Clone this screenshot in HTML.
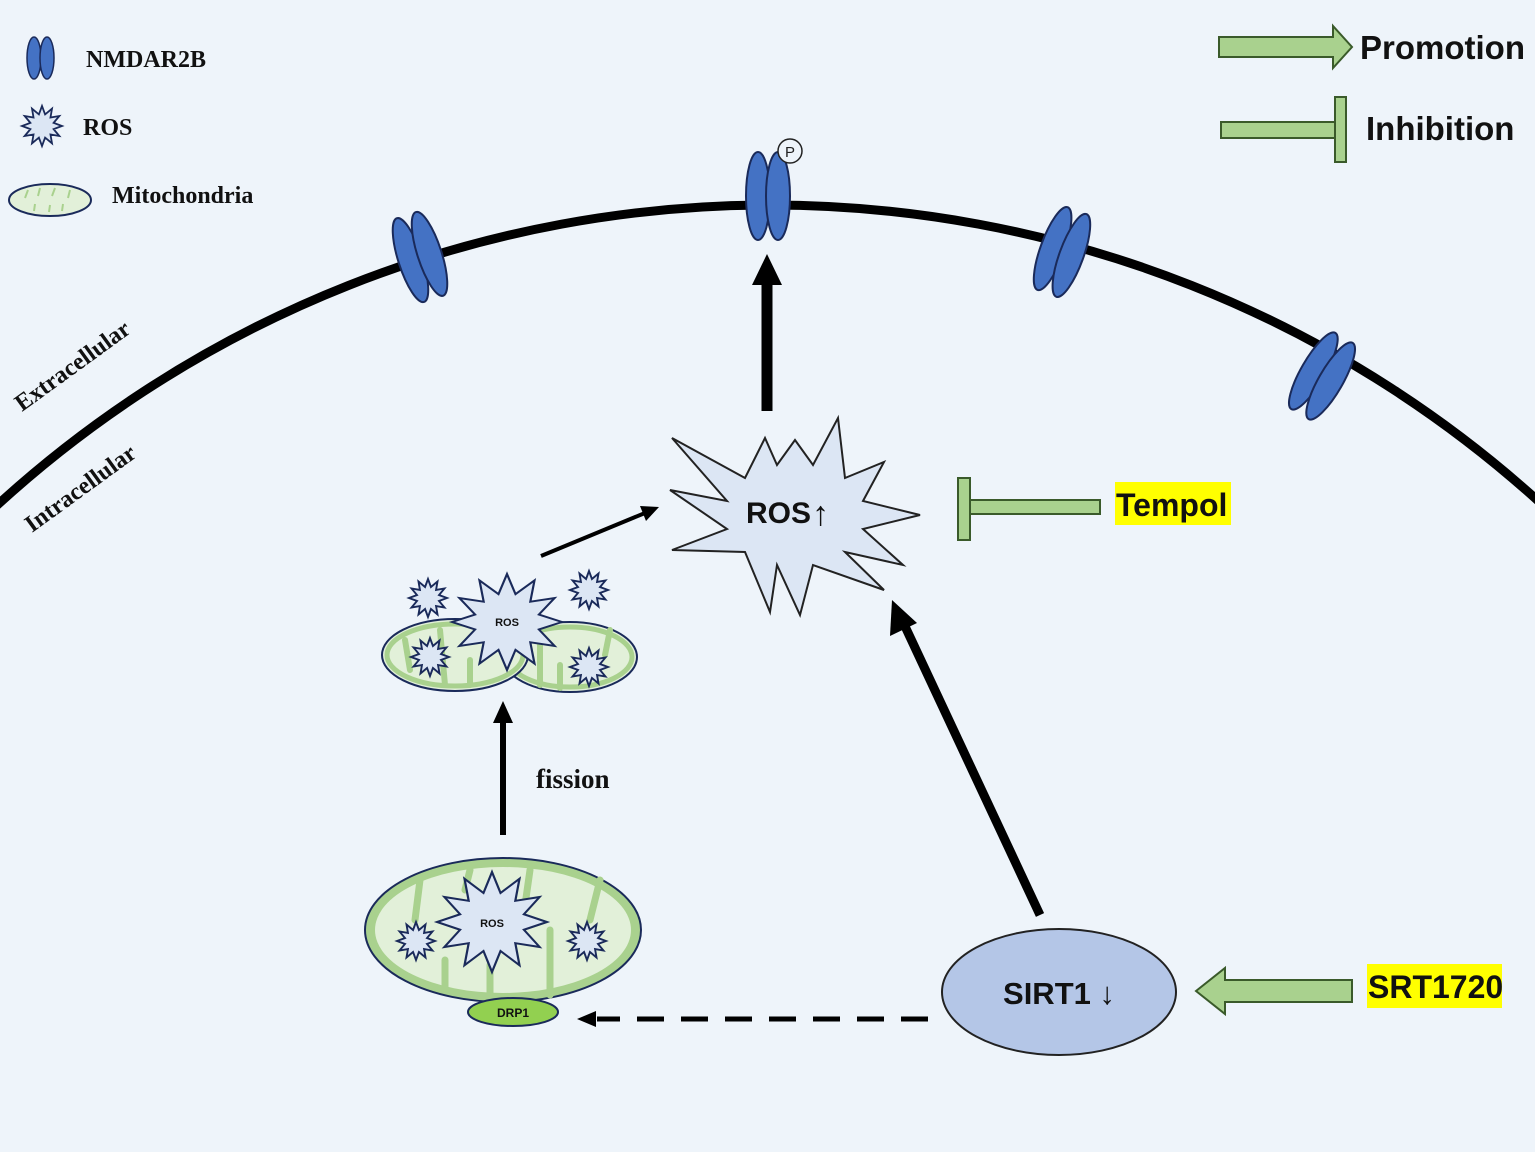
<!DOCTYPE html>
<html><head><meta charset="utf-8"><style>
html,body{margin:0;background:#eef4fa;overflow:hidden;width:1535px;height:1152px}
svg{display:block}
.t{font-family:"Liberation Serif",serif;font-weight:bold;fill:#111}
.s{font-family:"Liberation Sans",sans-serif;font-weight:bold;fill:#111}
</style></head><body>
<svg width="1535" height="1152" viewBox="0 0 1535 1152" xmlns="http://www.w3.org/2000/svg">
<defs>
<polygon id="st" points="1,0 .58,.155 .866,.5 .424,.424 .5,.866 .155,.58 0,1 -.155,.58 -.5,.866 -.424,.424 -.866,.5 -.58,.155 -1,0 -.58,-.155 -.866,-.5 -.424,-.424 -.5,-.866 -.155,-.58 0,-1 .155,-.58 .5,-.866 .424,-.424 .866,-.5 .58,-.155"/>
<g id="rec"><ellipse cx="-10" cy="0" rx="12" ry="44" fill="#4472c4" stroke="#1a2a5a" stroke-width="2"/><ellipse cx="10" cy="0" rx="12" ry="44" fill="#4472c4" stroke="#1a2a5a" stroke-width="2"/></g>
</defs>
<rect width="1535" height="1152" fill="#eef4fa"/>
<circle cx="770" cy="1350" r="1145" fill="none" stroke="#000" stroke-width="9"/>
<use href="#rec" transform="translate(420,257) rotate(-18)"/>
<use href="#rec" transform="translate(768,196)"/>
<use href="#rec" transform="translate(1062,252) rotate(20)"/>
<use href="#rec" transform="translate(1322,376) rotate(30)"/>
<circle cx="790" cy="151" r="12" fill="#eef4fa" stroke="#222" stroke-width="1.5"/>
<text x="790" y="157" font-family="Liberation Sans,sans-serif" font-size="15" text-anchor="middle" fill="#222">P</text>
<text class="t" font-size="24" transform="translate(22,412) rotate(-36)">Extracellular</text>
<text class="t" font-size="24" transform="translate(32,533) rotate(-36)">Intracellular</text>
<g transform="translate(41,58)"><ellipse cx="-7" cy="0" rx="7" ry="21" fill="#4472c4" stroke="#1a2a5a" stroke-width="1.5"/><ellipse cx="6" cy="0" rx="7" ry="21" fill="#4472c4" stroke="#1a2a5a" stroke-width="1.5"/></g>
<text class="t" x="86" y="67" font-size="24">NMDAR2B</text>
<use href="#st" transform="translate(42,126) scale(20,20)" fill="#dce6f4" stroke="#1a2a5a" stroke-width=".09"/>
<text class="t" x="83" y="135" font-size="24">ROS</text>
<ellipse cx="50" cy="200" rx="41" ry="16" fill="#e2f0d9" stroke="#1a2a5a" stroke-width="2"/>
<g stroke="#a9d18e" stroke-width="2"><line x1="28" y1="190" x2="25" y2="198"/><line x1="40" y1="188" x2="38" y2="196"/><line x1="55" y1="188" x2="52" y2="196"/><line x1="70" y1="190" x2="68" y2="198"/><line x1="35" y1="204" x2="34" y2="211"/><line x1="50" y1="205" x2="49" y2="212"/><line x1="63" y1="204" x2="62" y2="211"/></g>
<text class="t" x="112" y="203" font-size="24">Mitochondria</text>
<polygon points="1219,37 1333,37 1333,26 1352,47 1333,68 1333,57 1219,57" fill="#a9d18e" stroke="#3a5a2a" stroke-width="2"/>
<text class="s" x="1360" y="59" font-size="33">Promotion</text>
<rect x="1221" y="122" width="114" height="16" fill="#a9d18e" stroke="#3a5a2a" stroke-width="2"/>
<rect x="1335" y="97" width="11" height="65" fill="#a9d18e" stroke="#3a5a2a" stroke-width="2"/>
<text class="s" x="1366" y="140" font-size="33">Inhibition</text>
<polygon points="920,515 863,529 903,565 845,552 884,590 813,565 800,615 777,565 770,612 745,552 672,550 727,529 670,490 727,501 672,438 745,478 765,438 777,465 795,440 813,465 838,418 845,478 884,462 863,501" fill="#dce6f4" stroke="#222" stroke-width="2"/>
<text class="s" x="746" y="523" font-size="30">ROS</text>
<text class="s" x="812" y="525" font-size="34">↑</text>
<line x1="767" y1="411" x2="767" y2="282" stroke="#000" stroke-width="11"/>
<polygon points="767,254 752,285 782,285" fill="#000"/>
<rect x="970" y="500" width="130" height="14" fill="#a9d18e" stroke="#3a5a2a" stroke-width="2"/>
<rect x="958" y="478" width="12" height="62" fill="#a9d18e" stroke="#3a5a2a" stroke-width="2"/>
<rect x="1115" y="482" width="116" height="43" fill="#ffff00"/>
<text class="s" x="1116" y="516" font-size="32">Tempol</text>
<line x1="541" y1="556" x2="645" y2="513" stroke="#000" stroke-width="4"/>
<polygon points="659,507 640,506 646,521" fill="#000"/>
<ellipse cx="570" cy="657" rx="67" ry="35" fill="#e2f0d9" stroke="#1a2a5a" stroke-width="2"/>
<ellipse cx="570" cy="657" rx="62" ry="30" fill="none" stroke="#a9d18e" stroke-width="5"/>
<ellipse cx="455" cy="655" rx="73" ry="36" fill="#e2f0d9" stroke="#1a2a5a" stroke-width="2"/>
<ellipse cx="455" cy="655" rx="68" ry="31" fill="none" stroke="#a9d18e" stroke-width="5"/>
<g stroke="#a9d18e" stroke-width="6" stroke-linecap="round"><line x1="405" y1="640" x2="410" y2="670"/><line x1="440" y1="630" x2="445" y2="685"/><line x1="470" y1="660" x2="470" y2="685"/><line x1="540" y1="640" x2="540" y2="685"/><line x1="560" y1="665" x2="560" y2="688"/><line x1="610" y1="630" x2="605" y2="655"/></g>
<use href="#st" transform="translate(507,622) scale(55,48)" fill="#dce6f4" stroke="#1a2a5a" stroke-width=".04"/>
<text class="s" x="507" y="626" font-size="11" text-anchor="middle">ROS</text>
<use href="#st" transform="translate(428,598) scale(19,19)" fill="#dce6f4" stroke="#1a2a5a" stroke-width=".1"/>
<use href="#st" transform="translate(589,590) scale(19,19)" fill="#dce6f4" stroke="#1a2a5a" stroke-width=".1"/>
<use href="#st" transform="translate(430,657) scale(19,19)" fill="#dce6f4" stroke="#1a2a5a" stroke-width=".1"/>
<use href="#st" transform="translate(589,667) scale(19,19)" fill="#dce6f4" stroke="#1a2a5a" stroke-width=".1"/>
<line x1="503" y1="835" x2="503" y2="722" stroke="#000" stroke-width="6"/>
<polygon points="503,701 493,723 513,723" fill="#000"/>
<text class="t" x="536" y="788" font-size="27">fission</text>
<ellipse cx="503" cy="930" rx="138" ry="72" fill="#a9d18e" stroke="#1a2a5a" stroke-width="2"/>
<ellipse cx="503" cy="930" rx="128" ry="63" fill="#e2f0d9"/>
<g stroke="#a9d18e" stroke-width="7" stroke-linecap="round"><line x1="420" y1="880" x2="415" y2="920"/><line x1="470" y1="870" x2="465" y2="890"/><line x1="530" y1="870" x2="525" y2="905"/><line x1="600" y1="880" x2="590" y2="920"/><line x1="445" y1="960" x2="445" y2="990"/><line x1="490" y1="965" x2="490" y2="995"/><line x1="550" y1="930" x2="550" y2="995"/></g>
<use href="#st" transform="translate(492,922) scale(55,50)" fill="#dce6f4" stroke="#1a2a5a" stroke-width=".04"/>
<text class="s" x="492" y="927" font-size="11" text-anchor="middle">ROS</text>
<use href="#st" transform="translate(416,941) scale(19,19)" fill="#dce6f4" stroke="#1a2a5a" stroke-width=".1"/>
<use href="#st" transform="translate(587,941) scale(19,19)" fill="#dce6f4" stroke="#1a2a5a" stroke-width=".1"/>
<ellipse cx="513" cy="1012" rx="45" ry="14" fill="#92d050" stroke="#1a2a5a" stroke-width="2"/>
<text class="s" x="513" y="1017" font-size="12" text-anchor="middle" font-weight="normal">DRP1</text>
<line x1="928" y1="1019" x2="597" y2="1019" stroke="#000" stroke-width="5" stroke-dasharray="27,17"/>
<polygon points="577,1019 596,1011 596,1027" fill="#000"/>
<line x1="1040" y1="915" x2="903" y2="622" stroke="#000" stroke-width="9"/>
<polygon points="892,600 890,636 917,623" fill="#000"/>
<ellipse cx="1059" cy="992" rx="117" ry="63" fill="#b4c6e7" stroke="#222" stroke-width="2"/>
<text class="s" x="1059" y="1004" font-size="31" text-anchor="middle">SIRT1 ↓</text>
<polygon points="1196,991 1225,968 1225,980 1352,980 1352,1002 1225,1002 1225,1014" fill="#a9d18e" stroke="#3a5a2a" stroke-width="2"/>
<rect x="1367" y="964" width="135" height="44" fill="#ffff00"/>
<text class="s" x="1368" y="998" font-size="32">SRT1720</text>
</svg>
</body></html>
